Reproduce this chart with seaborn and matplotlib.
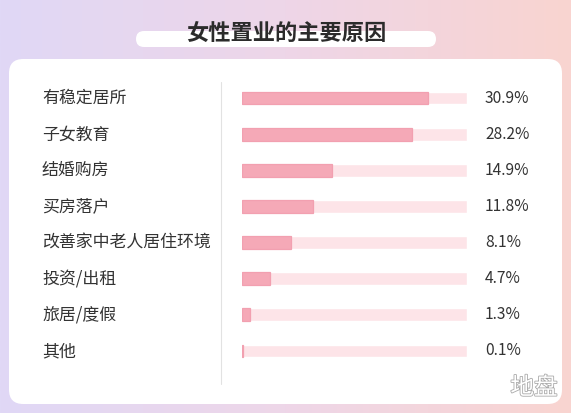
import numpy as np
import pandas as pd
import seaborn as sns
import matplotlib.pyplot as plt
import matplotlib.patheffects as pe
from matplotlib.patches import FancyBboxPatch
from matplotlib.transforms import blended_transform_factory

reasons = ['有稳定居所', '子女教育', '结婚购房', '买房落户',
           '改善家中老人居住环境', '投资/出租', '旅居/度假', '其他']
shares = [30.9, 28.2, 14.9, 11.8, 8.1, 4.7, 1.3, 0.1]
track_max = 37.4
title = '女性置业的主要原因'

W, H = 571, 413
sns.set_style('white')
plt.rcParams['font.family'] = ['Noto Sans CJK SC', 'DejaVu Sans']

fig = plt.figure(figsize=(W / 100, H / 100), dpi=100)

# gradient background
bg = fig.add_axes([0, 0, 1, 1], zorder=0)
left_c = np.array([224, 216, 246]) / 255
mid_c = np.array([238, 214, 232]) / 255
right_c = np.array([249, 212, 208]) / 255
t = np.linspace(0, 1, 300)
cols = np.where(t[:, None] < 0.5,
                left_c + (mid_c - left_c) * (t[:, None] / 0.5),
                mid_c + (right_c - mid_c) * ((t[:, None] - 0.5) / 0.5))
bg.imshow(cols[None, :, :], aspect='auto', extent=[0, 1, 0, 1])
bg.set_xlim(0, 1)
bg.set_ylim(0, 1)
bg.axis('off')

# white panel and title pill
bg.add_patch(FancyBboxPatch((9 / W, 1 - 404 / H), 553 / W, 345 / H,
                            boxstyle='round,pad=0,rounding_size=0.025',
                            fc='white', ec='none', mutation_aspect=W / H))
bg.add_patch(FancyBboxPatch((136 / W, 1 - 47 / H), 300 / W, 16 / H,
                            boxstyle='round,pad=0,rounding_size=0.014',
                            fc='white', ec='none', mutation_aspect=W / H))
bg.text(286 / W, 1 - 34 / H, title, ha='center', va='center',
        fontsize=16, fontweight='bold', color='#2b2b2b')
bg.plot([221 / W, 221 / W], [1 - 82 / H, 1 - 384 / H], color='#e2e2e2', lw=0.8)
bg.text(534 / W, 1 - 388 / H, '地盘', ha='center', va='center', fontsize=17,
        color='white', path_effects=[pe.withStroke(linewidth=1.2, foreground='#aaaaaa')])

df = pd.DataFrame({'reason': reasons, 'share': shares, 'track': [track_max] * len(reasons)})

ax = fig.add_axes([242 / W, (H - 369) / H, 225 / W, 289 / H], zorder=2)
ax.patch.set_alpha(0)
sns.barplot(data=df, x='track', y='reason', color='#fde4e8', width=0.35,
            saturation=1, ax=ax)
sns.barplot(data=df, x='share', y='reason', color='#f5a9b7', width=0.35,
            saturation=1, linewidth=0.9, edgecolor='#f2a0b0', ax=ax)
ax.set_xlim(0, track_max)
ax.set_ylim(len(reasons) - 0.5, -0.5)
ax.set_xlabel('')
ax.set_ylabel('')
ax.set_xticks([])
ax.set_yticks([])
sns.despine(ax=ax, left=True, bottom=True)

trans = blended_transform_factory(fig.transFigure, ax.transData)
for i, (r, v) in enumerate(zip(reasons, shares)):
    ax.text(42 / W, i, r, transform=trans, ha='left', va='center',
            fontsize=12.2, color='#333333')
    ax.text(485 / W, i, f'{v}%', transform=trans, ha='left', va='center',
            fontsize=11.2, color='#333333')

fig.savefig('out.png', dpi=100)
